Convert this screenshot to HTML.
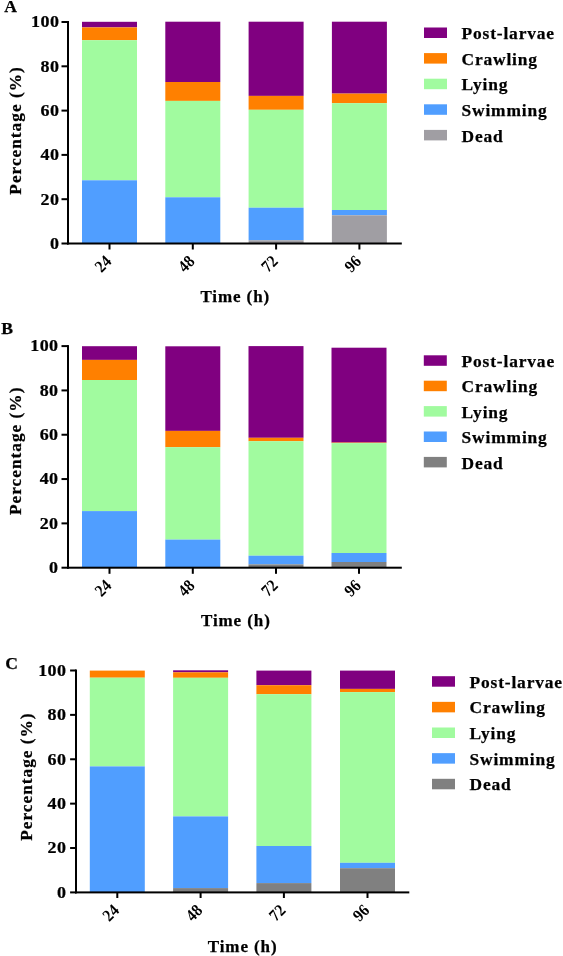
<!DOCTYPE html><html><head><meta charset="utf-8"><style>html,body{margin:0;padding:0;background:#fff;}svg{display:block;will-change:transform;}text{font-family:"Liberation Serif",serif;font-weight:bold;fill:#000;stroke:#000;stroke-width:0.25px;}</style></head><body>
<svg width="563" height="956" viewBox="0 0 563 956">
<g><rect x="82" y="21.8" width="55" height="5.6" fill="#800080"/><rect x="82" y="27.4" width="55" height="12.8" fill="#FF8000"/><rect x="82" y="40.2" width="55" height="140.1" fill="#A1FB9F"/><rect x="82" y="180.3" width="55" height="63.2" fill="#509EFF"/><rect x="165.3" y="21.7" width="55" height="60.3" fill="#800080"/><rect x="165.3" y="82" width="55" height="18.9" fill="#FF8000"/><rect x="165.3" y="100.9" width="55" height="96.4" fill="#A1FB9F"/><rect x="165.3" y="197.3" width="55" height="46.2" fill="#509EFF"/><rect x="248.6" y="21.7" width="55" height="74.2" fill="#800080"/><rect x="248.6" y="95.9" width="55" height="13.9" fill="#FF8000"/><rect x="248.6" y="109.8" width="55" height="97.9" fill="#A1FB9F"/><rect x="248.6" y="207.7" width="55" height="32.6" fill="#509EFF"/><rect x="248.6" y="240.3" width="55" height="3.2" fill="#A09EA3"/><rect x="331.9" y="21.7" width="55" height="71.9" fill="#800080"/><rect x="331.9" y="93.6" width="55" height="9.6" fill="#FF8000"/><rect x="331.9" y="103.2" width="55" height="106.8" fill="#A1FB9F"/><rect x="331.9" y="210" width="55" height="5.3" fill="#509EFF"/><rect x="331.9" y="215.3" width="55" height="28.2" fill="#A09EA3"/><rect x="67" y="21" width="2" height="223.5" fill="#000"/><rect x="67" y="242.5" width="334.8" height="2" fill="#000"/><rect x="61.5" y="21" width="6.5" height="2" fill="#000"/><text transform="translate(59.3,27.3) scale(1,0.92)" font-size="18" letter-spacing="0.4" text-anchor="end">100</text><rect x="61.5" y="65.3" width="6.5" height="2" fill="#000"/><text transform="translate(59.3,71.6) scale(1,0.92)" font-size="18" letter-spacing="0.4" text-anchor="end">80</text><rect x="61.5" y="109.6" width="6.5" height="2" fill="#000"/><text transform="translate(59.3,115.9) scale(1,0.92)" font-size="18" letter-spacing="0.4" text-anchor="end">60</text><rect x="61.5" y="153.9" width="6.5" height="2" fill="#000"/><text transform="translate(59.3,160.2) scale(1,0.92)" font-size="18" letter-spacing="0.4" text-anchor="end">40</text><rect x="61.5" y="198.2" width="6.5" height="2" fill="#000"/><text transform="translate(59.3,204.5) scale(1,0.92)" font-size="18" letter-spacing="0.4" text-anchor="end">20</text><rect x="61.5" y="242.5" width="6.5" height="2" fill="#000"/><text transform="translate(59.3,248.8) scale(1,0.92)" font-size="18" letter-spacing="0.4" text-anchor="end">0</text><rect x="108.5" y="243.5" width="2" height="6" fill="#000"/><text transform="translate(112.5,262.2) rotate(-45) scale(0.9,1)" font-size="17" letter-spacing="0.2" style="font-weight:bold;stroke:none" text-anchor="end">24</text><rect x="191.8" y="243.5" width="2" height="6" fill="#000"/><text transform="translate(195.8,262.2) rotate(-45) scale(0.9,1)" font-size="17" letter-spacing="0.2" style="font-weight:bold;stroke:none" text-anchor="end">48</text><rect x="275.1" y="243.5" width="2" height="6" fill="#000"/><text transform="translate(279.1,262.2) rotate(-45) scale(0.9,1)" font-size="17" letter-spacing="0.2" style="font-weight:bold;stroke:none" text-anchor="end">72</text><rect x="358.4" y="243.5" width="2" height="6" fill="#000"/><text transform="translate(362.4,262.2) rotate(-45) scale(0.9,1)" font-size="17" letter-spacing="0.2" style="font-weight:bold;stroke:none" text-anchor="end">96</text><text x="200.4" y="301.9" font-size="17" letter-spacing="0.9">Time (h)</text><text transform="translate(21.1,130.5) rotate(-90)" font-size="17.3" letter-spacing="1.0" text-anchor="middle">Percentage (%)</text><text x="4.2" y="12.1" font-size="17.6">A</text><rect x="424" y="27.5" width="23" height="10.5" fill="#800080"/><text x="461.5" y="39.1" font-size="17.4" letter-spacing="0.85">Post-larvae</text><rect x="424" y="53.1" width="23" height="10.5" fill="#FF8000"/><text x="461.5" y="64.7" font-size="17.4" letter-spacing="0.85">Crawling</text><rect x="424" y="78.7" width="23" height="10.5" fill="#A1FB9F"/><text x="461.5" y="90.3" font-size="17.4" letter-spacing="0.85">Lying</text><rect x="424" y="104.3" width="23" height="10.5" fill="#509EFF"/><text x="461.5" y="115.9" font-size="17.4" letter-spacing="0.85">Swimming</text><rect x="424" y="129.9" width="23" height="10.5" fill="#A09EA3"/><text x="461.5" y="141.5" font-size="17.4" letter-spacing="0.85">Dead</text></g>
<g><rect x="82" y="346.2" width="55" height="13.7" fill="#800080"/><rect x="82" y="359.9" width="55" height="20.1" fill="#FF8000"/><rect x="82" y="380" width="55" height="131.1" fill="#A1FB9F"/><rect x="82" y="511.1" width="55" height="56.2" fill="#509EFF"/><rect x="165.3" y="346.3" width="55" height="84.6" fill="#800080"/><rect x="165.3" y="430.9" width="55" height="16.3" fill="#FF8000"/><rect x="165.3" y="447.2" width="55" height="92.4" fill="#A1FB9F"/><rect x="165.3" y="539.6" width="55" height="27.7" fill="#509EFF"/><rect x="248.5" y="346.1" width="55" height="91.7" fill="#800080"/><rect x="248.5" y="437.8" width="55" height="3.4" fill="#FF8000"/><rect x="248.5" y="441.2" width="55" height="114.5" fill="#A1FB9F"/><rect x="248.5" y="555.7" width="55" height="8.7" fill="#509EFF"/><rect x="248.5" y="564.4" width="55" height="2.9" fill="#808080"/><rect x="331.5" y="347.7" width="55" height="94.9" fill="#800080"/><rect x="331.5" y="442.6" width="55" height="0.5" fill="#FF8000"/><rect x="331.5" y="443.1" width="55" height="109.9" fill="#A1FB9F"/><rect x="331.5" y="553" width="55" height="9" fill="#509EFF"/><rect x="331.5" y="562" width="55" height="5.3" fill="#808080"/><rect x="67" y="345.1" width="2" height="223.6" fill="#000"/><rect x="67" y="566.7" width="334.8" height="2" fill="#000"/><rect x="61.5" y="345.1" width="6.5" height="2" fill="#000"/><text transform="translate(58.5,351.4) scale(1,0.92)" font-size="18" letter-spacing="0.4" text-anchor="end">100</text><rect x="61.5" y="389.42" width="6.5" height="2" fill="#000"/><text transform="translate(58.5,395.72) scale(1,0.92)" font-size="18" letter-spacing="0.4" text-anchor="end">80</text><rect x="61.5" y="433.74" width="6.5" height="2" fill="#000"/><text transform="translate(58.5,440.04) scale(1,0.92)" font-size="18" letter-spacing="0.4" text-anchor="end">60</text><rect x="61.5" y="478.06" width="6.5" height="2" fill="#000"/><text transform="translate(58.5,484.36) scale(1,0.92)" font-size="18" letter-spacing="0.4" text-anchor="end">40</text><rect x="61.5" y="522.38" width="6.5" height="2" fill="#000"/><text transform="translate(58.5,528.68) scale(1,0.92)" font-size="18" letter-spacing="0.4" text-anchor="end">20</text><rect x="61.5" y="566.7" width="6.5" height="2" fill="#000"/><text transform="translate(58.5,573) scale(1,0.92)" font-size="18" letter-spacing="0.4" text-anchor="end">0</text><rect x="108.5" y="567.7" width="2" height="6.1" fill="#000"/><text transform="translate(112.5,586.5) rotate(-45) scale(0.9,1)" font-size="17" letter-spacing="0.2" style="font-weight:bold;stroke:none" text-anchor="end">24</text><rect x="191.8" y="567.7" width="2" height="6.1" fill="#000"/><text transform="translate(195.8,586.5) rotate(-45) scale(0.9,1)" font-size="17" letter-spacing="0.2" style="font-weight:bold;stroke:none" text-anchor="end">48</text><rect x="275" y="567.7" width="2" height="6.1" fill="#000"/><text transform="translate(279,586.5) rotate(-45) scale(0.9,1)" font-size="17" letter-spacing="0.2" style="font-weight:bold;stroke:none" text-anchor="end">72</text><rect x="358" y="567.7" width="2" height="6.1" fill="#000"/><text transform="translate(362,586.5) rotate(-45) scale(0.9,1)" font-size="17" letter-spacing="0.2" style="font-weight:bold;stroke:none" text-anchor="end">96</text><text x="201" y="626.3" font-size="17" letter-spacing="0.9">Time (h)</text><text transform="translate(20.5,450.8) rotate(-90)" font-size="17.3" letter-spacing="1.0" text-anchor="middle">Percentage (%)</text><text x="1.2" y="333.6" font-size="17.6">B</text><rect x="423.8" y="355.3" width="23" height="10.5" fill="#800080"/><text x="461.6" y="366.9" font-size="17.4" letter-spacing="0.85">Post-larvae</text><rect x="423.8" y="380.7" width="23" height="10.5" fill="#FF8000"/><text x="461.6" y="392.3" font-size="17.4" letter-spacing="0.85">Crawling</text><rect x="423.8" y="406.1" width="23" height="10.5" fill="#A1FB9F"/><text x="461.6" y="417.7" font-size="17.4" letter-spacing="0.85">Lying</text><rect x="423.8" y="431.5" width="23" height="10.5" fill="#509EFF"/><text x="461.6" y="443.1" font-size="17.4" letter-spacing="0.85">Swimming</text><rect x="423.8" y="456.9" width="23" height="10.5" fill="#808080"/><text x="461.6" y="468.5" font-size="17.4" letter-spacing="0.85">Dead</text></g>
<g><rect x="89.8" y="670.6" width="55" height="7.1" fill="#FF8000"/><rect x="89.8" y="677.7" width="55" height="88.7" fill="#A1FB9F"/><rect x="89.8" y="766.4" width="55" height="126" fill="#509EFF"/><rect x="173.1" y="670.3" width="55" height="2" fill="#800080"/><rect x="173.1" y="672.3" width="55" height="5.5" fill="#FF8000"/><rect x="173.1" y="677.8" width="55" height="138.6" fill="#A1FB9F"/><rect x="173.1" y="816.4" width="55" height="71.7" fill="#509EFF"/><rect x="173.1" y="888.1" width="55" height="4.3" fill="#808080"/><rect x="256.4" y="670.6" width="55" height="14.6" fill="#800080"/><rect x="256.4" y="685.2" width="55" height="9" fill="#FF8000"/><rect x="256.4" y="694.2" width="55" height="151.8" fill="#A1FB9F"/><rect x="256.4" y="846" width="55" height="37.1" fill="#509EFF"/><rect x="256.4" y="883.1" width="55" height="9.3" fill="#808080"/><rect x="340" y="670.6" width="55" height="18.3" fill="#800080"/><rect x="340" y="688.9" width="55" height="3.2" fill="#FF8000"/><rect x="340" y="692.1" width="55" height="170.7" fill="#A1FB9F"/><rect x="340" y="862.8" width="55" height="5.4" fill="#509EFF"/><rect x="340" y="868.2" width="55" height="24.2" fill="#808080"/><rect x="75" y="669.5" width="2" height="223.9" fill="#000"/><rect x="75" y="891.4" width="334.3" height="2" fill="#000"/><rect x="70.1" y="669.5" width="5.9" height="2" fill="#000"/><text transform="translate(66.4,675.8) scale(1,0.92)" font-size="18" letter-spacing="0.4" text-anchor="end">100</text><rect x="70.1" y="713.88" width="5.9" height="2" fill="#000"/><text transform="translate(66.4,720.18) scale(1,0.92)" font-size="18" letter-spacing="0.4" text-anchor="end">80</text><rect x="70.1" y="758.26" width="5.9" height="2" fill="#000"/><text transform="translate(66.4,764.56) scale(1,0.92)" font-size="18" letter-spacing="0.4" text-anchor="end">60</text><rect x="70.1" y="802.64" width="5.9" height="2" fill="#000"/><text transform="translate(66.4,808.94) scale(1,0.92)" font-size="18" letter-spacing="0.4" text-anchor="end">40</text><rect x="70.1" y="847.02" width="5.9" height="2" fill="#000"/><text transform="translate(66.4,853.32) scale(1,0.92)" font-size="18" letter-spacing="0.4" text-anchor="end">20</text><rect x="70.1" y="891.4" width="5.9" height="2" fill="#000"/><text transform="translate(66.4,897.7) scale(1,0.92)" font-size="18" letter-spacing="0.4" text-anchor="end">0</text><rect x="116.3" y="892.4" width="2" height="5.6" fill="#000"/><text transform="translate(120.3,911.3) rotate(-45) scale(0.9,1)" font-size="17" letter-spacing="0.2" style="font-weight:bold;stroke:none" text-anchor="end">24</text><rect x="199.6" y="892.4" width="2" height="5.6" fill="#000"/><text transform="translate(203.6,911.3) rotate(-45) scale(0.9,1)" font-size="17" letter-spacing="0.2" style="font-weight:bold;stroke:none" text-anchor="end">48</text><rect x="282.9" y="892.4" width="2" height="5.6" fill="#000"/><text transform="translate(286.9,911.3) rotate(-45) scale(0.9,1)" font-size="17" letter-spacing="0.2" style="font-weight:bold;stroke:none" text-anchor="end">72</text><rect x="366.5" y="892.4" width="2" height="5.6" fill="#000"/><text transform="translate(370.5,911.3) rotate(-45) scale(0.9,1)" font-size="17" letter-spacing="0.2" style="font-weight:bold;stroke:none" text-anchor="end">96</text><text x="207.8" y="952" font-size="17" letter-spacing="0.9">Time (h)</text><text transform="translate(31.5,776.6) rotate(-90)" font-size="17.3" letter-spacing="1.0" text-anchor="middle">Percentage (%)</text><text x="5.2" y="669.4" font-size="17.6">C</text><rect x="432" y="676.2" width="23" height="10.5" fill="#800080"/><text x="469.5" y="687.8" font-size="17.4" letter-spacing="0.85">Post-larvae</text><rect x="432" y="701.85" width="23" height="10.5" fill="#FF8000"/><text x="469.5" y="713.45" font-size="17.4" letter-spacing="0.85">Crawling</text><rect x="432" y="727.5" width="23" height="10.5" fill="#A1FB9F"/><text x="469.5" y="739.1" font-size="17.4" letter-spacing="0.85">Lying</text><rect x="432" y="753.15" width="23" height="10.5" fill="#509EFF"/><text x="469.5" y="764.75" font-size="17.4" letter-spacing="0.85">Swimming</text><rect x="432" y="778.8" width="23" height="10.5" fill="#808080"/><text x="469.5" y="790.4" font-size="17.4" letter-spacing="0.85">Dead</text></g>
</svg></body></html>
